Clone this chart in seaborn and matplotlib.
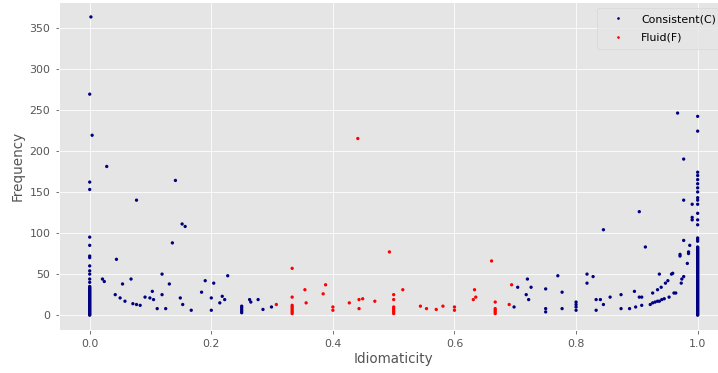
import matplotlib
matplotlib.use("Agg")
import matplotlib.pyplot as plt
import seaborn as sns
import pandas as pd

# ---- data ----
consistent_x = (
    [0.002, 0.0, 0.004, 0.0, 0.0, 0.0, 0.0, 0.0, 0.0, 0.0, 0.0, 0.0, 0.0, 0.0]
    + [0.0] * 36
    + [0.021, 0.024, 0.028, 0.042, 0.044, 0.050, 0.054, 0.058, 0.068, 0.071,
       0.077, 0.077, 0.083, 0.091, 0.099, 0.103, 0.105, 0.111, 0.119, 0.119,
       0.125, 0.131, 0.136, 0.141, 0.149, 0.152, 0.153, 0.157, 0.167, 0.184,
       0.190, 0.2, 0.2, 0.204, 0.214, 0.218, 0.222, 0.227, 0.25, 0.25,
       0.25, 0.25, 0.25, 0.263, 0.265, 0.277, 0.285, 0.299]
    + [0.698, 0.704, 0.718, 0.720, 0.722, 0.726, 0.75, 0.75, 0.75, 0.770,
       0.777, 0.777, 0.8, 0.8, 0.8, 0.8, 0.818, 0.818, 0.828, 0.833,
       0.833, 0.840, 0.845, 0.845, 0.856, 0.874, 0.874, 0.888, 0.896, 0.898,
       0.904, 0.904, 0.908, 0.908, 0.914, 0.922, 0.926, 0.926, 0.930, 0.934,
       0.934, 0.937, 0.937, 0.940, 0.941, 0.945, 0.947, 0.951, 0.953, 0.957,
       0.959, 0.961, 0.964, 0.967, 0.971, 0.971, 0.973, 0.974, 0.977, 0.977,
       0.977, 0.977, 0.983, 0.985, 0.985, 0.987, 0.991, 0.991, 0.991]
    + [1.0] * 17
    + [1.0] * 84
)
consistent_y = (
    [363, 269, 219, 162, 153, 95, 85, 72, 70, 60, 54, 50, 44, 40]
    + [0, 1, 2, 3, 4, 5, 6, 7, 8, 9, 10, 11, 12, 13, 14, 15, 16, 17, 18, 19,
       20, 21, 22, 23, 24, 25, 26, 27, 28, 29, 30, 31, 32, 33, 34, 35]
    + [44, 41, 181, 25, 68, 21, 38, 17, 44, 14,
       13, 140, 12, 22, 21, 29, 19, 8, 50, 25,
       8, 38, 88, 164, 21, 111, 13, 108, 6, 28,
       42, 21, 6, 39, 15, 23, 19, 48, 3, 5,
       7, 9, 11, 19, 16, 19, 7, 10]
    + [10, 34, 25, 44, 19, 34, 32, 8, 4, 48,
       28, 8, 16, 13, 10, 6, 50, 39, 47, 19,
       6, 19, 104, 13, 22, 25, 8, 8, 29, 10,
       126, 22, 22, 12, 83, 13, 15, 27, 16, 17,
       31, 17, 50, 34, 19, 20, 39, 42, 22, 50,
       51, 27, 27, 246, 74, 72, 39, 44, 47, 190,
       140, 91, 63, 75, 77, 85, 135, 119, 116]
    + [242, 224, 174, 170, 165, 160, 155, 150, 143, 140, 135, 124, 116, 110,
       94, 92, 90]
    + [0, 1, 2, 3, 4, 5, 6, 7, 8, 9, 10, 11, 12, 13, 14, 15, 16, 17, 18, 19,
       20, 21, 22, 23, 24, 25, 26, 27, 28, 29, 30, 31, 32, 33, 34, 35, 36, 37,
       38, 39, 40, 41, 42, 43, 44, 45, 46, 47, 48, 49, 50, 51, 52, 53, 54, 55,
       56, 57, 58, 59, 60, 61, 62, 63, 64, 65, 66, 67, 68, 69, 70, 71, 72, 73,
       74, 75, 76, 77, 78, 79, 80, 81, 82, 83]
)

fluid_x = [0.307, 0.333, 0.333, 0.333, 0.333, 0.333, 0.333, 0.333, 0.333,
           0.354, 0.356, 0.384, 0.388, 0.4, 0.4, 0.427, 0.441, 0.443, 0.443,
           0.449, 0.469, 0.493, 0.5, 0.5, 0.5, 0.5, 0.5, 0.5, 0.5, 0.515,
           0.544, 0.554, 0.570, 0.581, 0.6, 0.6, 0.631, 0.633, 0.635, 0.661,
           0.667, 0.667, 0.667, 0.667, 0.667, 0.690, 0.694]
fluid_y = [13, 57, 22, 12, 10, 8, 6, 4, 2,
           31, 15, 26, 37, 10, 6, 15, 215, 19, 8,
           20, 17, 77, 25, 19, 10, 8, 6, 4, 2, 31,
           11, 8, 7, 11, 10, 6, 19, 31, 22, 66,
           16, 8, 6, 4, 2, 13, 37]

labels = ["Consistent(C)", "Fluid(F)"]
colors = ["navy", "red"]

df = pd.DataFrame({
    "Idiomaticity": consistent_x + fluid_x,
    "Frequency": consistent_y + fluid_y,
    "Type": [labels[0]] * len(consistent_x) + [labels[1]] * len(fluid_x),
})

plt.style.use("ggplot")
fig, ax = plt.subplots(figsize=(718 / 72, 373 / 72), dpi=72)
fig.subplots_adjust(left=0.0826, right=1.014, top=0.9946, bottom=0.115)

sns.scatterplot(data=df, x="Idiomaticity", y="Frequency", hue="Type",
                palette=dict(zip(labels, colors)), s=11, linewidth=0,
                marker="o", ax=ax)

ax.legend(loc="upper right", fontsize=11, markerscale=0.8,
          borderaxespad=0.5, borderpad=0.6, labelspacing=0.75,
          handlelength=2.6)
ax.tick_params(labelsize=11, pad=5.5)
ax.set_xlabel("Idiomaticity", fontsize=13.5, labelpad=3)
ax.set_ylabel("Frequency", fontsize=13.5, labelpad=5)

fig.savefig("out.png", dpi=72)
